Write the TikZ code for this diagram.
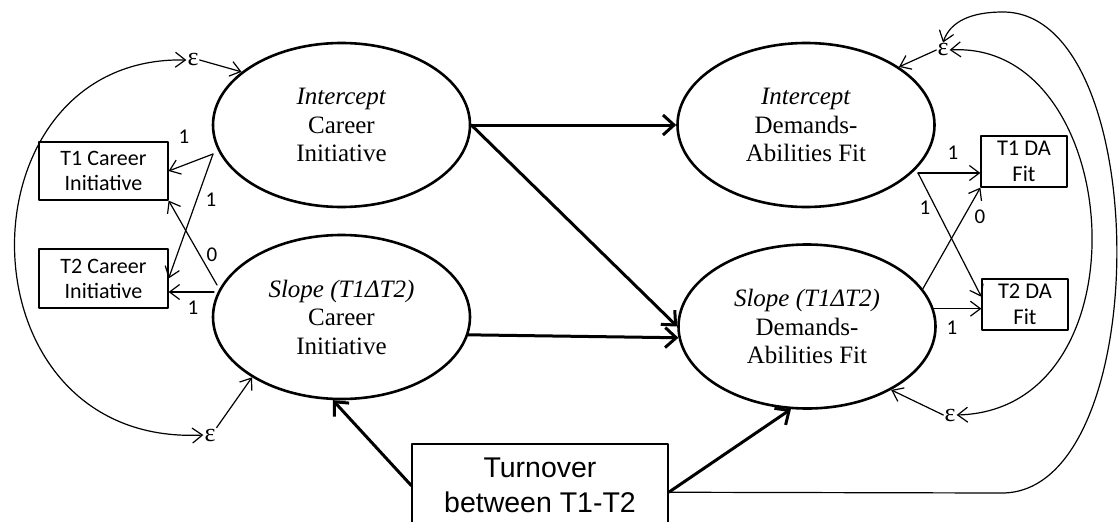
\documentclass[tikz,border=0pt]{standalone}
\usepackage{fontspec}
\setmainfont{Liberation Serif}
\newfontfamily\calibfont{Carlito}
\newfontfamily\arialfont{Liberation Sans}
\usetikzlibrary{shapes.geometric,arrows.meta}

\begin{document}
\begin{tikzpicture}[x=1pt, y=-1pt, line join=round, line cap=round,
	latent/.style={draw, ellipse, line width=2.6pt, minimum width=257pt, minimum height=164pt, inner sep=0pt, align=center, font=\fontsize{25}{28.5}\selectfont},
	obs/.style={draw, line width=1.2pt, inner sep=0pt, align=center, font=\calibfont\fontsize{22}{25}\selectfont},
	err/.style={inner sep=1pt, font=\fontsize{26}{26}\selectfont},
	lbl/.style={inner sep=0pt, font=\calibfont\fontsize{21}{21}\selectfont},
	bigarr/.style={-{Straight Barb[length=11pt,width=20pt]}, line width=3pt},
	smallarr/.style={-{Straight Barb[length=10pt,width=15pt]}, line width=1.2pt},
	bothtip/.style={{Straight Barb[length=10pt,width=15pt]}-{Straight Barb[length=10pt,width=15pt]}, line width=1.2pt}
	]
	\useasboundingbox (0,0) rectangle (1119,522);
	\clip (0,0) rectangle (1119,522);
	% latent growth factors
	\node[latent] (ici) at (341.5,125) {\textit{Intercept}\\Career\\Initiative};
	\node[latent] (sci) at (341.5,317) {\textit{Slope (T1ΔT2)}\\Career\\Initiative};
	\node[latent] (ida) at (806,125) {\textit{Intercept}\\Demands-\\Abilities Fit};
	\node[latent] (sda) at (807,326.5) {\textit{Slope (T1ΔT2)}\\Demands-\\Abilities Fit};
	% observed measures
	\node[obs, minimum width=129pt, minimum height=58pt] (t1c) at (103.5,171) {T1 Career\\Initiative};
	\node[obs, minimum width=129pt, minimum height=59pt] (t2c) at (103.5,278.5) {T2 Career\\Initiative};
	\node[obs, minimum width=86pt, minimum height=51pt, font=\calibfont\fontsize{22.5}{26}\selectfont] (t1d) at (1024,161.5) {T1 DA\\Fit};
	\node[obs, minimum width=86pt, minimum height=51pt, font=\calibfont\fontsize{22.5}{26}\selectfont] (t2d) at (1025,304.5) {T2 DA\\Fit};
	\node[draw, line width=1.5pt, minimum width=256pt, minimum height=83pt, inner sep=0pt, align=center, font=\arialfont\fontsize{28.5}{35}\selectfont] (turn) at (540,485.5) {Turnover\\between T1-T2};
	% residuals
	\node[err] (eic) at (193,60) {ε};
	\node[err] (esc) at (210,435) {ε};
	\node[err] (eid) at (943,50) {ε};
	\node[err] (esd) at (950,415) {ε};
	% loadings
	\node[lbl] (l1) at (184,137) {1};
	\node[lbl] (l2) at (211,200) {1};
	\node[lbl] (l3) at (212,255) {0};
	\node[lbl] (l4) at (193,308) {1};
	\node[lbl] (l5) at (953,153) {1};
	\node[lbl] (l6) at (925,208) {1};
	\node[lbl] (l7) at (980,217) {0};
	\node[lbl] (l8) at (952,328) {1};
	\coordinate (icL) at (213,154);
	\coordinate (scA) at (217,285);
	\coordinate (scB) at (214,292);
	\coordinate (idR) at (918,173);
	% structural paths
	\draw[bigarr] (ici.east) -- (ida.west);
	\draw[bigarr] (ici.east) -- (sda.west);
	\draw[bigarr] (sci.-8.6) -- (sda.-175.7);
	\draw[bigarr] (turn.west) -- (sci.264);
	\draw[bigarr] (turn.-3.3) -- (sda.-101);
	% measurement paths
	\draw[smallarr] (icL) -- (t1c.east);
	\draw[smallarr] (icL) -- (t2c.east);
	\draw[smallarr] (scA) -- (t1c.south east);
	\draw[smallarr] (scB) -- (scB -| t2c.east);
	\draw[smallarr] (idR) -- (idR -| t1d.west);
	\draw[smallarr] (idR) -- (t2d.170);
	\draw[smallarr] (sda.18) -- (t1d.south west);
	\draw[smallarr] (sda.8) -- (sda.8 -| t2d.west);
	% residual paths
	\draw[smallarr] (eic.east) -- (ici.152);
	\draw[smallarr] (esc.north east) -- (sci.214);
	\draw[smallarr] (eid.west) -- (ida.32);
	\draw[smallarr] (esd.west) -- (sda.-37);
	\draw[bothtip] (eic.west) .. controls (-45,55) and (-45,447) .. (esc.west);
	\draw[bothtip] (eid.east) .. controls (1125,40) and (1150,410) .. (esd.east);
	\draw[smallarr] (turn.-3.3) -- (1002,493) .. controls (1155,493) and (1155,12) .. (1003,12) .. controls (970,12) and (950,22) .. (eid.north);
\end{tikzpicture}
\end{document}
